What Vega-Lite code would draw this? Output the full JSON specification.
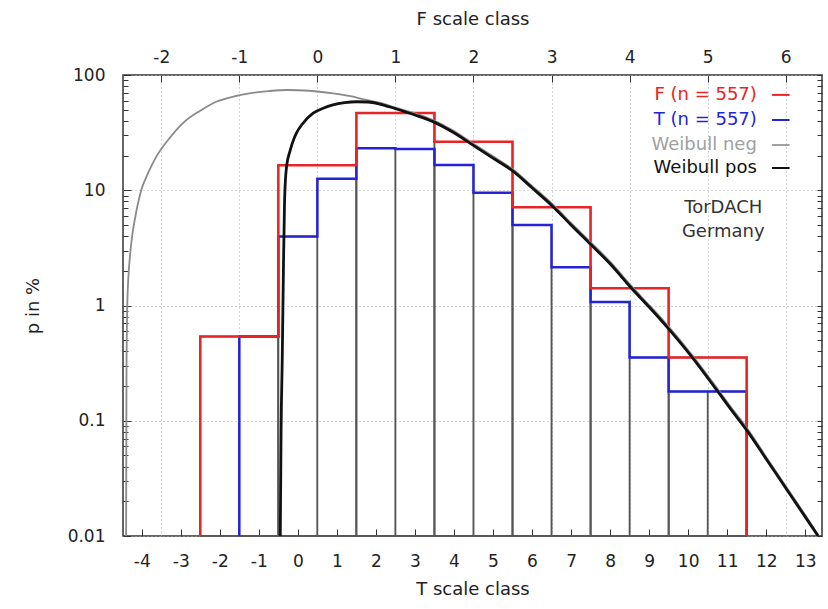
{
  "$schema": "https://vega.github.io/schema/vega-lite/v6.json",
  "width": 699,
  "height": 461,
  "autosize": "none",
  "padding": {"left": 123, "top": 75, "right": 6, "bottom": 73},
  "background": "white",
  "config": {
    "view": {"stroke": "#333", "strokeWidth": 1.5},
    "axis": {
      "labelFont": "DejaVu Sans", "labelFontSize": 17, "labelColor": "#222",
      "titleFont": "DejaVu Sans", "titleFontSize": 18, "titleFontWeight": "normal", "titleColor": "#222",
      "domain": false, "tickColor": "#333", "tickWidth": 1, "gridColor": "#aaa", "gridDash": [1, 3], "gridWidth": 1
    }
  },
  "datasets": {
    "hist": [
      {"s": "F", "x0": -2.5, "x1": -0.5, "p": 0.539},
      {"s": "F", "x0": -0.5, "x1": 1.5, "p": 16.5},
      {"s": "F", "x0": 1.5, "x1": 3.5, "p": 46.8},
      {"s": "F", "x0": 3.5, "x1": 5.5, "p": 26.4},
      {"s": "F", "x0": 5.5, "x1": 7.5, "p": 7.12},
      {"s": "F", "x0": 7.5, "x1": 9.5, "p": 1.41},
      {"s": "F", "x0": 9.5, "x1": 11.5, "p": 0.353},
      {"s": "T", "x0": -1.5, "x1": -0.5, "p": 0.539},
      {"s": "T", "x0": -0.5, "x1": 0.5, "p": 3.96},
      {"s": "T", "x0": 0.5, "x1": 1.5, "p": 12.6},
      {"s": "T", "x0": 1.5, "x1": 2.5, "p": 23.1},
      {"s": "T", "x0": 2.5, "x1": 3.5, "p": 22.8},
      {"s": "T", "x0": 3.5, "x1": 4.5, "p": 16.6},
      {"s": "T", "x0": 4.5, "x1": 5.5, "p": 9.53},
      {"s": "T", "x0": 5.5, "x1": 6.5, "p": 5.0},
      {"s": "T", "x0": 6.5, "x1": 7.5, "p": 2.15},
      {"s": "T", "x0": 7.5, "x1": 8.5, "p": 1.07},
      {"s": "T", "x0": 8.5, "x1": 9.5, "p": 0.353},
      {"s": "T", "x0": 9.5, "x1": 10.5, "p": 0.179},
      {"s": "T", "x0": 10.5, "x1": 11.5, "p": 0.179}
    ],
    "steps": [
      {"s": "F", "i": 0, "T": -2.5, "p": 0.01},
      {"s": "F", "i": 1, "T": -2.5, "p": 0.539},
      {"s": "F", "i": 2, "T": -0.5, "p": 16.5},
      {"s": "F", "i": 3, "T": 1.5, "p": 46.8},
      {"s": "F", "i": 4, "T": 3.5, "p": 26.4},
      {"s": "F", "i": 5, "T": 5.5, "p": 7.12},
      {"s": "F", "i": 6, "T": 7.5, "p": 1.41},
      {"s": "F", "i": 7, "T": 9.5, "p": 0.353},
      {"s": "F", "i": 8, "T": 11.5, "p": 0.353},
      {"s": "F", "i": 9, "T": 11.5, "p": 0.01},
      {"s": "T", "i": 0, "T": -1.5, "p": 0.01},
      {"s": "T", "i": 1, "T": -1.5, "p": 0.539},
      {"s": "T", "i": 2, "T": -0.5, "p": 3.96},
      {"s": "T", "i": 3, "T": 0.5, "p": 12.6},
      {"s": "T", "i": 4, "T": 1.5, "p": 23.1},
      {"s": "T", "i": 5, "T": 2.5, "p": 22.8},
      {"s": "T", "i": 6, "T": 3.5, "p": 16.6},
      {"s": "T", "i": 7, "T": 4.5, "p": 9.53},
      {"s": "T", "i": 8, "T": 5.5, "p": 5.0},
      {"s": "T", "i": 9, "T": 6.5, "p": 2.15},
      {"s": "T", "i": 10, "T": 7.5, "p": 1.07},
      {"s": "T", "i": 11, "T": 8.5, "p": 0.353},
      {"s": "T", "i": 12, "T": 9.5, "p": 0.179},
      {"s": "T", "i": 13, "T": 11.5, "p": 0.179},
      {"s": "T", "i": 14, "T": 11.5, "p": 0.01}
    ],
    "wneg": [
      {"T": -4.40, "p": 0.01}, {"T": -4.39, "p": 0.3}, {"T": -4.37, "p": 1.0}, {"T": -4.34, "p": 1.8},
      {"T": -4.31, "p": 2.49}, {"T": -4.25, "p": 3.9}, {"T": -4.18, "p": 5.5}, {"T": -4.1, "p": 7.6},
      {"T": -4.01, "p": 10.1}, {"T": -3.85, "p": 13.8}, {"T": -3.63, "p": 19.5}, {"T": -3.3, "p": 28},
      {"T": -2.95, "p": 38.1}, {"T": -2.5, "p": 49}, {"T": -2.09, "p": 58.6}, {"T": -1.65, "p": 65},
      {"T": -1.24, "p": 69.3}, {"T": -0.75, "p": 72.5}, {"T": -0.29, "p": 74.1}, {"T": 0.3, "p": 73},
      {"T": 0.9, "p": 69.3}, {"T": 1.35, "p": 65.5}, {"T": 1.76, "p": 60.7}, {"T": 2.1, "p": 57.5},
      {"T": 2.5, "p": 52}, {"T": 3.0, "p": 46.5}, {"T": 3.46, "p": 40.7}, {"T": 4.0, "p": 32.6},
      {"T": 4.41, "p": 26.5}, {"T": 5.0, "p": 19.7}, {"T": 5.47, "p": 15.5}, {"T": 6.0, "p": 10.9},
      {"T": 6.54, "p": 7.5}, {"T": 7.0, "p": 5.2}, {"T": 7.5, "p": 3.55}, {"T": 8.0, "p": 2.4},
      {"T": 8.55, "p": 1.47}, {"T": 9.0, "p": 1.01}, {"T": 9.45, "p": 0.685}, {"T": 10.09, "p": 0.376},
      {"T": 10.73, "p": 0.194}, {"T": 11.1, "p": 0.131}, {"T": 11.5, "p": 0.087}, {"T": 12.0, "p": 0.0485},
      {"T": 12.5, "p": 0.0271}, {"T": 13.0, "p": 0.0152}, {"T": 13.35, "p": 0.01}
    ],
    "wpos": [
      {"T": -0.45, "p": 0.01}, {"T": -0.43, "p": 0.08}, {"T": -0.40, "p": 0.34}, {"T": -0.37, "p": 2.0},
      {"T": -0.34, "p": 8.2}, {"T": -0.29, "p": 16}, {"T": -0.2, "p": 22}, {"T": -0.1, "p": 28},
      {"T": -0.04, "p": 31.2}, {"T": 0.1, "p": 37}, {"T": 0.39, "p": 46.6}, {"T": 0.65, "p": 51.5},
      {"T": 0.9, "p": 55}, {"T": 1.2, "p": 57.5}, {"T": 1.5, "p": 58.6}, {"T": 1.8, "p": 58.3},
      {"T": 2.1, "p": 56}, {"T": 2.5, "p": 51}, {"T": 3.0, "p": 45}, {"T": 3.46, "p": 39.4},
      {"T": 4.0, "p": 31.5}, {"T": 4.41, "p": 25.6}, {"T": 5.0, "p": 19}, {"T": 5.47, "p": 15},
      {"T": 6.0, "p": 10.5}, {"T": 6.54, "p": 7.2}, {"T": 7.0, "p": 5.0}, {"T": 7.5, "p": 3.4},
      {"T": 8.0, "p": 2.3}, {"T": 8.55, "p": 1.41}, {"T": 9.0, "p": 0.97}, {"T": 9.45, "p": 0.656},
      {"T": 10.09, "p": 0.36}, {"T": 10.73, "p": 0.185}, {"T": 11.1, "p": 0.125}, {"T": 11.5, "p": 0.083},
      {"T": 12.0, "p": 0.0466}, {"T": 12.5, "p": 0.0261}, {"T": 13.0, "p": 0.01466}, {"T": 13.33, "p": 0.01}
    ],
    "legend": [
      {"label": "F (n = 557)", "tx": 11.76, "l1": 12.15, "l2": 12.6, "p": 67.2},
      {"label": "T (n = 557)", "tx": 11.76, "l1": 12.15, "l2": 12.6, "p": 40.7},
      {"label": "Weibull neg", "tx": 11.76, "l1": 12.15, "l2": 12.6, "p": 24.7},
      {"label": "Weibull pos", "tx": 11.76, "l1": 12.15, "l2": 12.6, "p": 15.6}
    ],
    "note": [
      {"text": "TorDACH", "T": 10.9, "p": 7.03},
      {"text": "Germany", "T": 10.9, "p": 4.35}
    ]
  },
  "layer": [
    {
      "data": {"name": "hist"},
      "mark": {"type": "bar", "fillOpacity": 0, "stroke": "#555", "strokeWidth": 1.5},
      "encoding": {
        "x": {"field": "x0", "type": "quantitative",
              "scale": {"domain": [-4.48, 13.43], "nice": false, "zero": false},
              "axis": {"orient": "bottom", "values": [-4,-3,-2,-1,0,1,2,3,4,5,6,7,8,9,10,11,12,13],
                       "labelExpr": "'' + datum.value",
                       "title": "T scale class", "grid": false, "tickSize": -7, "labelPadding": 24, "titlePadding": 11}},
        "x2": {"field": "x1"},
        "y": {"field": "p", "type": "quantitative",
              "scale": {"type": "log", "domain": [0.01, 100], "nice": false},
              "axis": {"orient": "left", "values": [0.01, 0.1, 1, 10, 100], "labelExpr": "'' + datum.value",
                       "title": "p in %", "grid": true, "tickSize": -8, "labelPadding": 26, "titlePadding": 25}},
        "y2": {"datum": 0.01}
      }
    },
    {
      "data": {"name": "steps"},
      "transform": [{"filter": "datum.s === 'T'"}],
      "mark": {"type": "line", "interpolate": "step-after", "stroke": "#2424d6", "strokeWidth": 2.5, "clip": true},
      "encoding": {
        "x": {"field": "T", "type": "quantitative",
              "axis": {"orient": "top", "values": [-3.5,-1.5,0.5,2.5,4.5,6.5,8.5,10.5,12.5],
                       "labelExpr": "'' + round((datum.value - 0.5) / 2)",
                       "title": "F scale class", "grid": true, "tickSize": -7, "labelPadding": 16, "titlePadding": 20}},
        "y": {"field": "p", "type": "quantitative",
              "axis": {"orient": "right", "labels": false, "title": null, "grid": false, "tickSize": -5,
                       "values": [0.01,0.02,0.03,0.04,0.05,0.06,0.07,0.08,0.09,0.1,0.2,0.3,0.4,0.5,0.6,0.7,0.8,0.9,1,2,3,4,5,6,7,8,9,10,20,30,40,50,60,70,80,90,100]}},
        "order": {"field": "i", "type": "quantitative"}
      }
    },
    {
      "data": {"name": "steps"},
      "transform": [{"filter": "datum.s === 'F'"}],
      "mark": {"type": "line", "interpolate": "step-after", "stroke": "#e82424", "strokeWidth": 2.5, "clip": true},
      "encoding": {
        "x": {"field": "T", "type": "quantitative", "axis": null},
        "y": {"field": "p", "type": "quantitative", "axis": null},
        "order": {"field": "i", "type": "quantitative"}
      }
    },
    {
      "data": {"name": "wneg"},
      "mark": {"type": "line", "interpolate": "monotone", "stroke": "#8a8a8a", "strokeWidth": 1.8, "clip": true},
      "encoding": {
        "x": {"field": "T", "type": "quantitative", "axis": null},
        "y": {"field": "p", "type": "quantitative",
              "axis": {"orient": "left", "labels": false, "title": null, "grid": false, "tickSize": -5,
                       "values": [0.02,0.03,0.04,0.05,0.06,0.07,0.08,0.09,0.2,0.3,0.4,0.5,0.6,0.7,0.8,0.9,2,3,4,5,6,7,8,9,20,30,40,50,60,70,80,90]}}
      }
    },
    {
      "data": {"name": "wpos"},
      "mark": {"type": "line", "interpolate": "monotone", "stroke": "#111", "strokeWidth": 2.8, "clip": true},
      "encoding": {
        "x": {"field": "T", "type": "quantitative", "axis": null},
        "y": {"field": "p", "type": "quantitative", "axis": null}
      }
    },
    {
      "data": {"name": "legend"},
      "mark": {"type": "text", "align": "right", "baseline": "middle", "font": "DejaVu Sans", "fontSize": 18},
      "encoding": {
        "x": {"field": "tx", "type": "quantitative", "axis": null},
        "y": {"field": "p", "type": "quantitative", "axis": null},
        "text": {"field": "label"},
        "color": {"field": "label", "type": "nominal", "legend": null,
                  "scale": {"domain": ["F (n = 557)", "T (n = 557)", "Weibull neg", "Weibull pos"],
                            "range": ["#e82424", "#2424d6", "#a0a0a0", "#111111"]}}
      }
    },
    {
      "data": {"name": "legend"},
      "mark": {"type": "rule", "strokeWidth": 2},
      "encoding": {
        "x": {"field": "l1", "type": "quantitative", "axis": null},
        "x2": {"field": "l2"},
        "y": {"field": "p", "type": "quantitative", "axis": null},
        "color": {"field": "label", "type": "nominal", "legend": null}
      }
    },
    {
      "data": {"name": "note"},
      "mark": {"type": "text", "align": "center", "baseline": "middle", "font": "DejaVu Sans", "fontSize": 18, "color": "#333"},
      "encoding": {
        "x": {"field": "T", "type": "quantitative", "axis": null},
        "y": {"field": "p", "type": "quantitative", "axis": null},
        "text": {"field": "text"}
      }
    }
  ],
  "resolve": {"axis": {"x": "independent", "y": "independent"}}
}
